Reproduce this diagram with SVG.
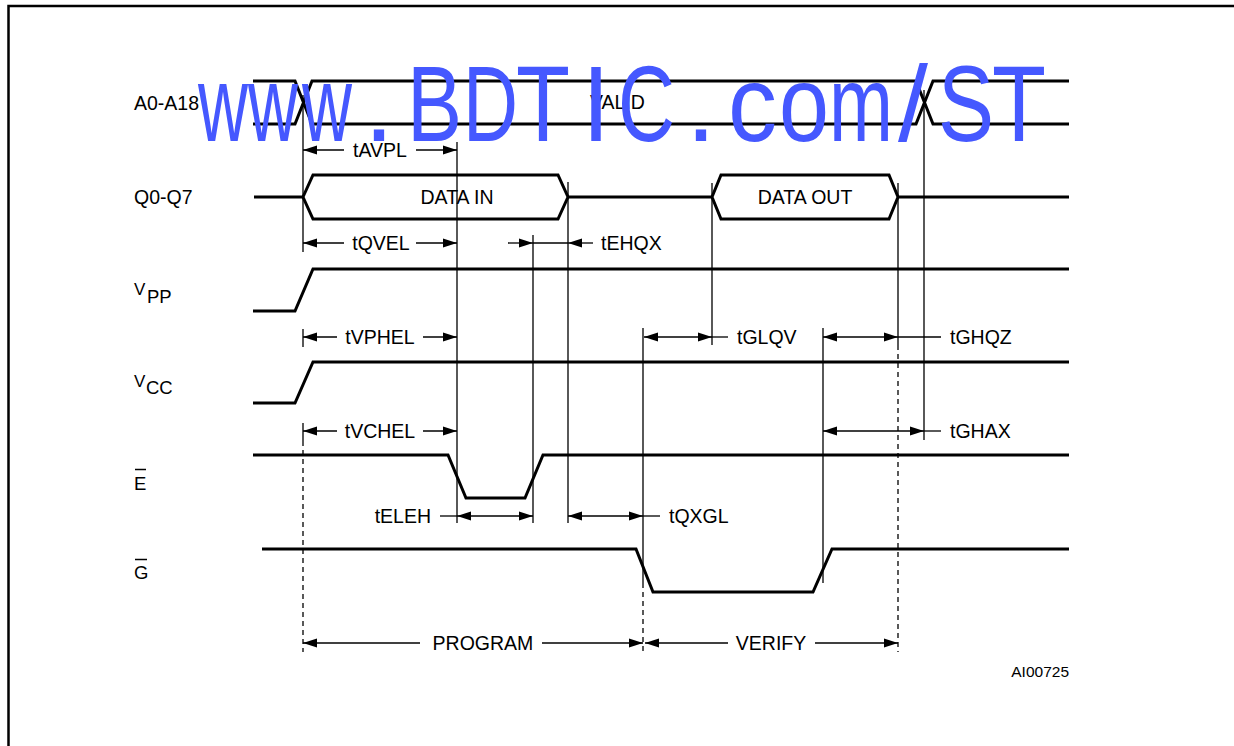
<svg xmlns="http://www.w3.org/2000/svg" width="1234" height="746" viewBox="0 0 1234 746">
<defs>
<marker id="ar" markerUnits="userSpaceOnUse" markerWidth="14" markerHeight="10" refX="14" refY="5" orient="auto-start-reverse" viewBox="0 0 14 10"><path d="M0,0.5 L14,5 L0,9.5 z" fill="#000"/></marker>
</defs>
<style>
.sig{fill:none;stroke:#000;stroke-width:3;stroke-linejoin:miter}
.thin{fill:none;stroke:#000;stroke-width:1.3}
.dash{fill:none;stroke:#000;stroke-width:1.3;stroke-dasharray:5 4}
.arr{fill:none;stroke:#000;stroke-width:1.3;marker-end:url(#ar)}
.dbl{fill:none;stroke:#000;stroke-width:1.3;marker-start:url(#ar);marker-end:url(#ar)}
text{font-family:"Liberation Sans",Arial,sans-serif;fill:#000}
.lbl{font-size:19.5px}
.mid{text-anchor:middle}
.wm{font-family:"Liberation Sans",Arial,sans-serif;font-size:108px;fill:#4558ff}
</style>
<rect width="1234" height="746" fill="#fff"/>
<path d="M8.5,746 V6 H1234" fill="none" stroke="#000" stroke-width="2.5"/>

<g id="sig-A">
<text class="lbl" x="134" y="110">A0-A18</text>
<path class="sig" d="M253,81 H295 L312,124 H916 L933,81 H1069 M253,124 H295 L312,81 H916 L933,124 H1069"/>
<text class="lbl" x="590" y="109">VALID</text>
</g>
<g id="sig-Q">
<text class="lbl" x="134" y="204">Q0-Q7</text>
<path class="sig" d="M254,197 H303 M712,197 H568 M898,197 H1069"/>
<path class="sig" d="M303,197 L313,175 H558 L568,197 L558,219 H313 Z"/>
<path class="sig" d="M712,197 L721,175 H889 L898,197 L889,219 H721 Z"/>
<text class="lbl mid" x="457" y="204">DATA IN</text>
<text class="lbl mid" x="805" y="204">DATA OUT</text>
</g>
<g id="sig-VPP">
<text x="134" y="295" font-size="17">V</text><text x="147" y="303" font-size="18.5">PP</text>
<path class="sig" d="M253,311 H295 L313,269 H1069"/>
</g>
<g id="sig-VCC">
<text x="134" y="387" font-size="17">V</text><text x="146" y="394" font-size="18.5">CC</text>
<path class="sig" d="M253,403 H295 L313,362 H1069"/>
</g>
<g id="sig-E">
<text x="134" y="490" font-size="18.5">E</text>
<path d="M135,469.5 H146" stroke="#000" stroke-width="1.5"/>
<path class="sig" d="M253,455 H448 L466,498 H525 L543,455 H1069"/>
</g>
<g id="sig-G">
<text x="134" y="579" font-size="18.5">G</text>
<path d="M135,559.5 H147" stroke="#000" stroke-width="1.5"/>
<path class="sig" d="M262,549 H636 L653,592 H813 L832,549 H1069"/>
</g>

<g id="connectors">
<path class="thin" d="M303,95 V252 M303,329 V347 M303,423 V441 M457,142 V523 M533,235 V523 M568,182 V523 M643,328 V583 M712,183 V345 M823,328 V583 M898,183 V345 M924,90 V440"/>
<path class="dash" d="M303,441 V652 M643,583 V652 M898,345 V652"/>
<path class="arr" d="M344,150 H303"/><path class="arr" d="M416,150 H457"/>
<path class="arr" d="M344,243 H303"/><path class="arr" d="M416,243 H457"/>
<path class="arr" d="M508,243 H533"/><path class="thin" d="M533,243 H568"/><path class="arr" d="M593,243 H568"/>
<path class="arr" d="M337,337 H303"/><path class="arr" d="M423,337 H457"/>
<path class="dbl" d="M644,337 H712"/><path class="thin" d="M712,337 H728"/>
<path class="dbl" d="M823,337 H898"/><path class="thin" d="M898,337 H941"/>
<path class="arr" d="M337,431 H303"/><path class="arr" d="M423,431 H457"/>
<path class="dbl" d="M823,431 H924"/><path class="thin" d="M924,431 H941"/>
<path class="thin" d="M440,516 H457"/><path class="dbl" d="M457,516 H533"/>
<path class="dbl" d="M568,516 H643"/><path class="thin" d="M643,516 H660"/>
<path class="arr" d="M420,643 H303"/><path class="arr" d="M542,643 H643"/>
<path class="arr" d="M728,643 H645"/><path class="arr" d="M815,643 H898"/>
<text class="lbl mid" x="380" y="157">tAVPL</text>
<text class="lbl mid" x="381" y="250">tQVEL</text>
<text class="lbl" x="601" y="250">tEHQX</text>
<text class="lbl mid" x="380" y="344">tVPHEL</text>
<text class="lbl" x="737" y="344">tGLQV</text>
<text class="lbl" x="950" y="344">tGHQZ</text>
<text class="lbl mid" x="380" y="438">tVCHEL</text>
<text class="lbl" x="950" y="438">tGHAX</text>
<text class="lbl" x="431" y="523" text-anchor="end">tELEH</text>
<text class="lbl" x="669" y="523">tQXGL</text>
<text class="lbl mid" x="483" y="650">PROGRAM</text>
<text class="lbl mid" x="771" y="650">VERIFY</text>
</g>
<text x="1069" y="677" font-size="15.5" text-anchor="end">AI00725</text>

<g id="watermark">
<text class="wm" x="198" y="141" textLength="50" lengthAdjust="spacingAndGlyphs">w</text>
<text class="wm" x="248" y="141" textLength="50" lengthAdjust="spacingAndGlyphs">w</text>
<text class="wm" x="302" y="141" textLength="50" lengthAdjust="spacingAndGlyphs">w</text>
<text class="wm" x="364" y="141" textLength="30" lengthAdjust="spacingAndGlyphs">.</text>
<text class="wm" x="407" y="141" textLength="55" lengthAdjust="spacingAndGlyphs">B</text>
<text class="wm" x="463" y="141" textLength="55" lengthAdjust="spacingAndGlyphs">D</text>
<text class="wm" x="516" y="141" textLength="54" lengthAdjust="spacingAndGlyphs">T</text>
<text class="wm" x="582" y="141" textLength="28" lengthAdjust="spacingAndGlyphs">I</text>
<text class="wm" x="618" y="141" textLength="57" lengthAdjust="spacingAndGlyphs">C</text>
<text class="wm" x="686" y="141" textLength="30" lengthAdjust="spacingAndGlyphs">.</text>
<text class="wm" x="728" y="141" textLength="49" lengthAdjust="spacingAndGlyphs">c</text>
<text class="wm" x="779" y="141" textLength="50" lengthAdjust="spacingAndGlyphs">o</text>
<text class="wm" x="829" y="141" textLength="64" lengthAdjust="spacingAndGlyphs">m</text>
<text class="wm" x="898" y="141" textLength="30" lengthAdjust="spacingAndGlyphs">/</text>
<text class="wm" x="938" y="141" textLength="56" lengthAdjust="spacingAndGlyphs">S</text>
<text class="wm" x="992" y="141" textLength="54" lengthAdjust="spacingAndGlyphs">T</text>
</g>
</svg>
